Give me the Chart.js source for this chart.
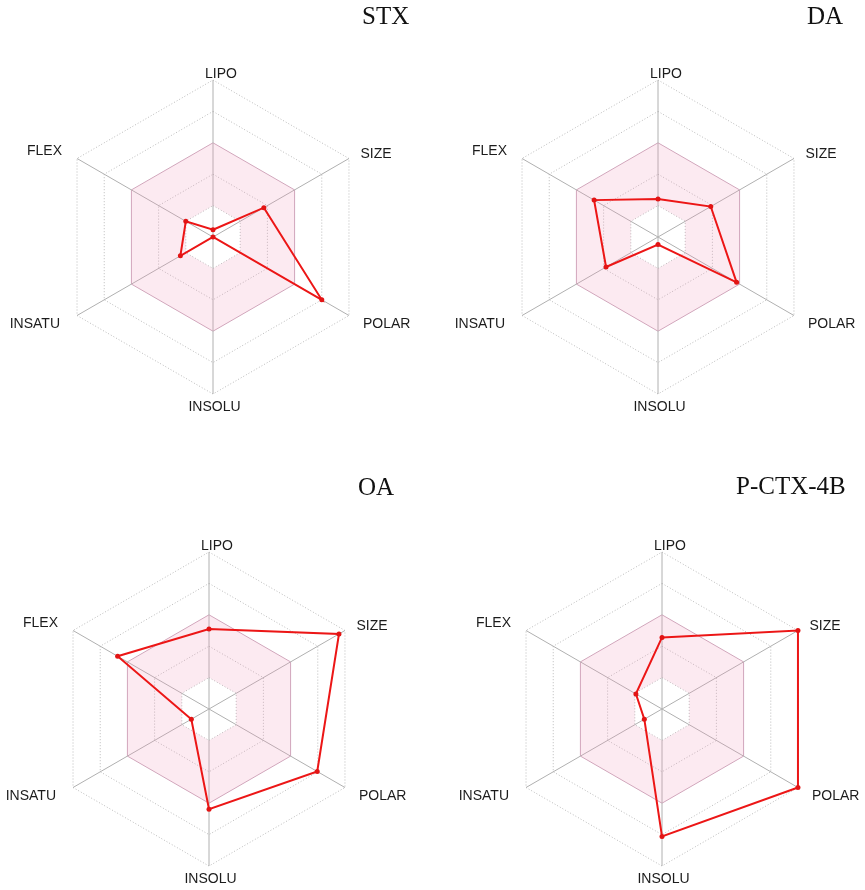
<!DOCTYPE html>
<html>
<head>
<meta charset="utf-8">
<script src="https://cdn.jsdelivr.net/npm/chart.js@4.4.1/dist/chart.umd.min.js"></script>
<style>
  html, body { margin: 0; padding: 0; background: #ffffff; }
  #wrap { position: relative; width: 865px; height: 890px; overflow: hidden; background: #ffffff; }
  #wrap canvas { position: absolute; }
  .title { position: absolute; font-family: "Liberation Serif", "DejaVu Serif", serif; font-size: 25px; line-height: 1; color: #111; white-space: nowrap; }
</style>
</head>
<body>
<div id="wrap"></div>
<script>
// ---- data ----
const axisLabels = ['LIPO', 'SIZE', 'POLAR', 'INSOLU', 'INSATU', 'FLEX'];
const chartTitles = ['STX', 'DA', 'OA', 'P-CTX-4B'];
const stxValues  = [0.23, 1.87, 4.00, 0.00, 1.20, 1.00];
const daValues   = [1.21, 1.94, 2.89, 0.24, 1.91, 2.35];
const oaValues   = [2.55, 4.78, 3.98, 3.19, 0.65, 3.36];
const pctxValues = [2.28, 5.00, 5.00, 4.06, 0.65, 0.96];
const optimalUpper = [3, 3, 3, 3, 3, 3];
const optimalLower = [1, 1, 1, 1, 1, 1];
const scaleMin = 0;
const scaleMax = 5;
const scaleStep = 1;

// ---- layout (panel placement, not data) ----
const CELL_W = 432, CELL_H = 445, RADIUS = 157;
const panels = [
  { title: chartTitles[0], values: stxValues,  box: [0, 0],     center: [213, 237], titleAt: [362, 2.6] },
  { title: chartTitles[1], values: daValues,   box: [433, 0],   center: [658, 237], titleAt: [807, 2.6] },
  { title: chartTitles[2], values: oaValues,   box: [0, 445],   center: [209, 709], titleAt: [358, 473.6] },
  { title: chartTitles[3], values: pctxValues, box: [433, 445], center: [662, 709], titleAt: [736, 472.6] }
];

// label placement relative to each axis end (style)
const labelPlacement = [
  { align: 'center', dx: 8,   dy: -2.4 },
  { align: 'left',   dx: 11.5, dy: -1 },
  { align: 'left',   dx: 14,  dy: 12 },
  { align: 'center', dx: 1.5, dy: 17 },
  { align: 'right',  dx: -17, dy: 12 },
  { align: 'right',  dx: -15, dy: -3.2 }
];

const axisLabelPlugin = {
  id: 'axisLabelPlugin',
  afterDraw(chart) {
    const s = chart.scales.r;
    const ctx = chart.ctx;
    ctx.save();
    ctx.font = '14px "Liberation Sans", Arial, sans-serif';
    ctx.fillStyle = '#1c1c1c';
    ctx.textBaseline = 'alphabetic';
    chart.data.labels.forEach((lab, i) => {
      const p = s.getPointPosition(i, s.getDistanceFromCenterForValue(s.max));
      const o = labelPlacement[i];
      ctx.textAlign = o.align;
      ctx.fillText(lab, p.x + o.dx, p.y + o.dy);
    });
    ctx.restore();
  }
};

const wrap = document.getElementById('wrap');

panels.forEach((pn) => {
  const cv = document.createElement('canvas');
  cv.width = CELL_W; cv.height = CELL_H;
  cv.style.width = CELL_W + 'px'; cv.style.height = CELL_H + 'px';
  cv.style.left = pn.box[0] + 'px'; cv.style.top = pn.box[1] + 'px';
  wrap.appendChild(cv);

  const lx = pn.center[0] - pn.box[0];
  const ly = pn.center[1] - pn.box[1];
  const pad = {
    left: lx - RADIUS,
    right: CELL_W - lx - RADIUS,
    top: ly - RADIUS,
    bottom: CELL_H - ly - RADIUS
  };

  new Chart(cv, {
    type: 'radar',
    data: {
      labels: axisLabels,
      datasets: [
        {
          label: pn.title,
          data: pn.values,
          borderColor: 'rgb(236, 22, 22)',
          backgroundColor: 'rgb(236, 22, 22)',
          borderWidth: 2,
          pointRadius: 2.5,
          pointBorderWidth: 0,
          pointBackgroundColor: 'rgb(226, 20, 20)',
          pointHoverRadius: 2.5,
          fill: false,
          tension: 0
        },
        {
          label: 'optimal upper',
          data: optimalUpper,
          borderWidth: 0,
          borderColor: 'rgba(0,0,0,0)',
          pointRadius: 0,
          pointHoverRadius: 0,
          backgroundColor: 'rgba(240, 150, 185, 0.2)',
          fill: '+1'
        },
        {
          label: 'optimal lower',
          data: optimalLower,
          borderWidth: 0,
          borderColor: 'rgba(0,0,0,0)',
          pointRadius: 0,
          pointHoverRadius: 0,
          backgroundColor: 'rgba(0,0,0,0)',
          fill: false
        }
      ]
    },
    options: {
      responsive: false,
      animation: false,
      events: [],
      layout: { padding: pad },
      plugins: {
        legend: { display: false },
        tooltip: { enabled: false },
        title: { display: false }
      },
      scales: {
        r: {
          min: scaleMin,
          max: scaleMax,
          ticks: { display: false, stepSize: scaleStep },
          pointLabels: { display: false },
          grid: {
            circular: false,
            lineWidth: 1,
            color: (c) => (c.index === 3 ? 'rgb(206, 168, 188)' : 'rgb(186, 186, 186)')
          },
          border: {
            dash: (c) => (c.index === 3 ? [] : [1, 2])
          },
          angleLines: { display: true, color: 'rgb(176, 176, 176)', lineWidth: 1 }
        }
      }
    },
    plugins: [axisLabelPlugin]
  });

  const t = document.createElement('div');
  t.className = 'title';
  t.textContent = pn.title;
  t.style.left = pn.titleAt[0] + 'px';
  t.style.top = pn.titleAt[1] + 'px';
  wrap.appendChild(t);
});
</script>
</body>
</html>
